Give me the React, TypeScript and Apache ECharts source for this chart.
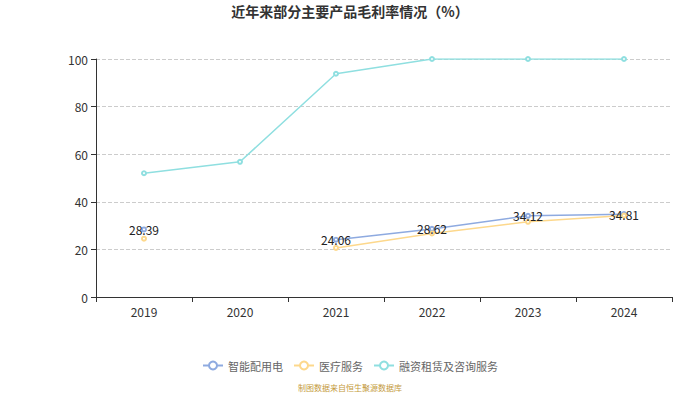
import React, { useEffect, useRef } from "react";
import * as echarts from "echarts";

const categories = ["2019", "2020", "2021", "2022", "2023", "2024"];
const smartPower = [28.39, null, 24.06, 28.62, 34.12, 34.81];
const medical = [24.5, null, 20.6, 26.7, 31.6, 34.2];
const leasing = [52.0, 56.8, 93.8, 100, 100, 100];
const seriesNames = ["智能配用电", "医疗服务", "融资租赁及咨询服务"];
const colors = ["#8eaae0", "#fdd88c", "#8fdfe0"];

export default function App() {
  const ref = useRef<HTMLDivElement>(null);
  useEffect(() => {
    const chart = echarts.init(ref.current!, null, { renderer: "svg" });
    const font = "'Microsoft YaHei', 'Noto Sans CJK SC', sans-serif";
    const lineSeries = (name: string, data: (number | null)[], withLabel: boolean) => ({
      name,
      type: "line",
      data,
      symbol: "emptyCircle",
      symbolSize: 4,
      itemStyle: { borderWidth: 1 },
      lineStyle: { width: 1.5 },
      label: withLabel
        ? { show: true, position: "inside", color: "#222", fontSize: 12 }
        : { show: false },
    });
    chart.setOption({
      animation: false,
      color: colors,
      textStyle: { fontFamily: font },
      title: {
        text: "近年来部分主要产品毛利率情况（%）",
        left: "center",
        top: -1,
        textStyle: { fontSize: 14, fontWeight: "bold", color: "#333", fontFamily: font },
      },
      grid: { left: 96, right: 28, top: 59, bottom: 97 },
      legend: {
        top: 355,
        left: "center",
        itemWidth: 20,
        itemHeight: 10,
        itemGap: 10,
        textStyle: { fontSize: 11, color: "#666" },
        data: seriesNames,
      },
      graphic: [
        {
          type: "text",
          left: "center",
          top: 383,
          style: {
            text: "制图数据来自恒生聚源数据库",
            fill: "#c49a3c",
            fontSize: 8,
            fontFamily: font,
          },
        },
      ],
      xAxis: {
        type: "category",
        data: categories,
        boundaryGap: true,
        axisLine: { lineStyle: { color: "#333" } },
        axisTick: { show: true, alignWithLabel: false, lineStyle: { color: "#333" } },
        axisLabel: { color: "#333", fontSize: 12, margin: 8 },
      },
      yAxis: {
        type: "value",
        min: 0,
        max: 100,
        interval: 20,
        axisLine: { show: true, lineStyle: { color: "#333" } },
        axisTick: { show: true, lineStyle: { color: "#333" } },
        axisLabel: { color: "#333", fontSize: 12 },
        splitLine: { lineStyle: { type: "dashed", color: "#ccc" } },
      },
      series: [
        lineSeries(seriesNames[0], smartPower, true),
        lineSeries(seriesNames[1], medical, false),
        lineSeries(seriesNames[2], leasing, false),
      ],
    });
    return () => chart.dispose();
  }, []);
  return (
    <div
      ref={ref}
      style={{ position: "absolute", left: 0, top: 0, width: 700, height: 394 }}
    />
  );
}
